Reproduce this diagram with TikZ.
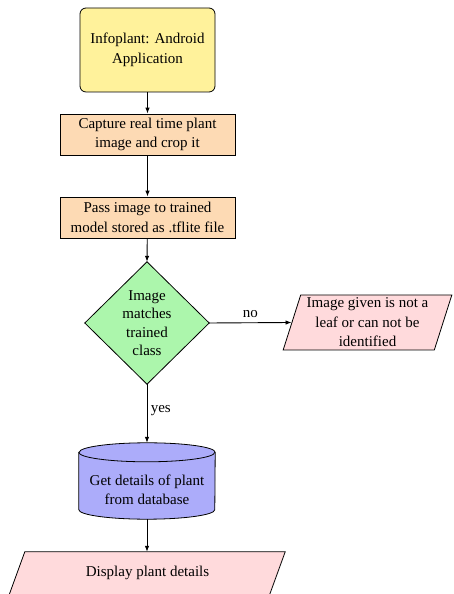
\documentclass[tikz,border=0pt]{standalone}
\usepackage{fontspec}
\setmainfont{Liberation Serif}
\usetikzlibrary{arrows.meta,shapes.geometric,backgrounds}
\definecolor{startfill}{RGB}{255,242,155}
\definecolor{procfill}{RGB}{253,218,180}
\definecolor{decfill}{RGB}{172,246,172}
\definecolor{iofill}{RGB}{255,218,220}
\definecolor{dbfill}{RGB}{172,172,250}
\tikzset{
  every node/.style={font=\fontsize{15}{19.5}\selectfont, align=center},
  startbox/.style={draw, rounded corners=6pt, fill=startfill, minimum width=135pt, minimum height=84pt, line width=0.8pt},
  procbox/.style={draw, fill=procfill, minimum width=175pt, minimum height=41pt, line width=0.8pt},
  iobox/.style={draw, fill=iofill, trapezium, trapezium left angle=72, trapezium right angle=108,
    trapezium stretches=true, line width=0.8pt, inner sep=0pt},
  conn/.style={-{Latex[length=6pt,width=4.5pt]}, line width=0.9pt},
}
\begin{document}
\begin{tikzpicture}[x=1pt,y=1pt]
\useasboundingbox (0,0) rectangle (454,594);

% process chain
\node[startbox] (start) at (147.5,544) {Infoplant: Android\\Application};
\node[procbox] (capture) at (147.5,459.5) {Capture real time plant\\image and crop it};
\node[procbox] (pass) at (147.5,376.5) {Pass image to trained\\model stored as .tflite file};

% decision
\node[minimum width=124pt, minimum height=122pt, inner sep=0pt,
      font=\fontsize{15}{18.5}\selectfont] (dec) at (147,271)
  {Image\\matches\\trained\\class};
\begin{scope}[on background layer]
  \draw[fill=decfill, line width=0.8pt] (dec.north) -- (dec.east) -- (dec.south) -- (dec.west) -- cycle;
\end{scope}

% rejection output
\node[iobox, minimum width=169pt, minimum height=55pt] (reject) at (367.5,271.5)
  {Image given is not a\\leaf or can not be\\identified};

% database lookup
\node[minimum width=136pt, minimum height=76pt, inner sep=0pt] (db) at (147,113) {};
\begin{scope}[on background layer]
  \draw[fill=dbfill, line width=0.8pt]
    ([yshift=-9.5pt]db.north west) -- ([yshift=9.5pt]db.south west)
    arc[start angle=180, end angle=360, x radius=68pt, y radius=9.5pt]
    -- ([yshift=-9.5pt]db.north east)
    arc[start angle=0, end angle=180, x radius=68pt, y radius=9.5pt] -- cycle;
  \draw[line width=0.8pt] ([yshift=-9.5pt]db.north west)
    arc[start angle=180, end angle=360, x radius=68pt, y radius=9.5pt];
\end{scope}
\node (dbtext) at (147,104) {Get details of plant\\from database};

% final output, running off the lower edge
\node[minimum width=260pt, minimum height=42pt, inner sep=0pt] (show) at (147.5,21) {Display plant details};
\begin{scope}[on background layer]
  \draw[fill=iofill, line width=0.8pt]
    ([xshift=7.5pt]show.north west) -- ([xshift=7.5pt]show.north east)
    -- ([xshift=-10.1pt, yshift=-6pt]show.south east)
    -- ([xshift=-10.1pt, yshift=-6pt]show.south west) -- cycle;
\end{scope}

% connectors
\draw[conn] (start) -- (capture);
\draw[conn] (capture) -- (pass);
\draw[conn] (pass) -- (dec.north);
\draw[conn] (dec.east) -- node[above, pos=0.5, yshift=1pt] {no} (reject.west);
\draw[conn] (dec.south) -- node[right, pos=0.45] {yes} (db.north);
\draw[conn] (db.south) -- (show.north -| db.south);
\end{tikzpicture}
\end{document}
